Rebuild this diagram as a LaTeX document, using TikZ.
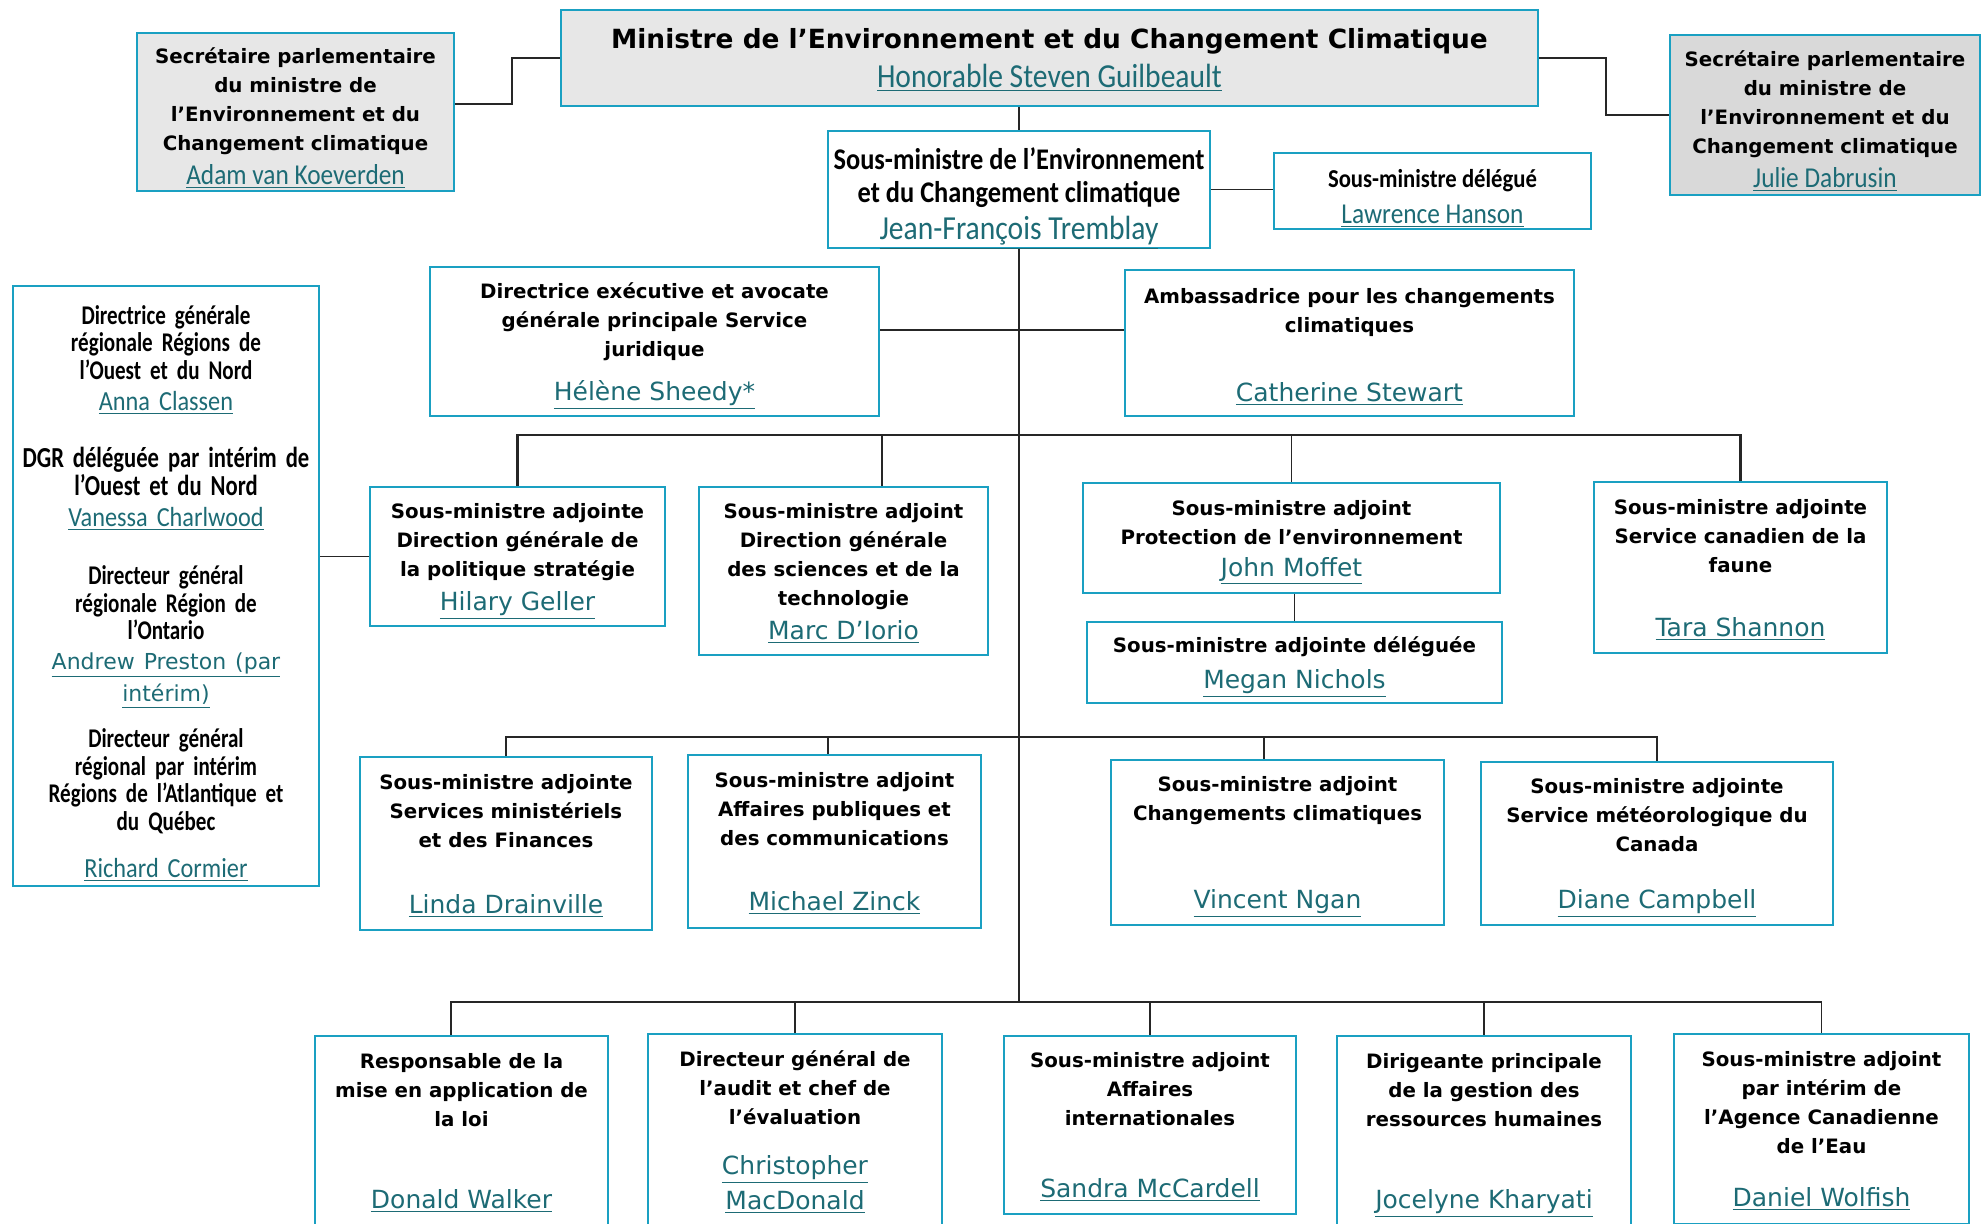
\documentclass[tikz,border=0pt]{standalone}
\usepackage{fontspec}
\setmainfont{DejaVu Sans}
\newfontfamily\calfont{Carlito}[FakeStretch=0.88]
\newfontfamily\calserre{Carlito}[FakeStretch=0.78]
\usepackage{tikz}

\definecolor{bordure}{HTML}{1AA0C2}
\definecolor{nomteal}{HTML}{1D6B75}
\definecolor{grisclair}{HTML}{E7E7E7}
\definecolor{grismoyen}{HTML}{D9D9D9}

\newcommand{\tnom}[2][12.5]{\raisebox{0pt}[\height][0pt]{\rmfamily\mdseries\fontsize{#1}{14.5}\selectfont\color{nomteal}\underline{#2}}}
\newcommand{\cnom}[2][14.4]{\raisebox{0pt}[\height][0pt]{\calfont\mdseries\fontsize{#1}{14.5}\selectfont\color{nomteal}\underline{#2}}}

\tikzset{
  poste/.style={draw=bordure, line width=1.2pt, fill=white, align=center, inner sep=2pt,
    text=black, font=\bfseries\fontsize{9.9}{14.5}\selectfont},
  lien/.style={draw=black!85, line width=0.8pt},
}

\begin{document}
\begin{tikzpicture}[x=0.5pt, y=-0.5pt]
\useasboundingbox (0,0) rectangle (1982,1223);
\clip (0,0) rectangle (1982,1223);

\node[poste, fill=grisclair, minimum width=488.5pt, minimum height=48pt,
  font=\bfseries\fontsize{13.2}{19.5}\selectfont] (min) at (1049.5,58)
  {Ministre de l’Environnement et du Changement Climatique\\ \cnom[16.8]{Honorable Steven Guilbeault}};
\node[poste, fill=grisclair, minimum width=158.5pt, minimum height=79pt] (secG) at (295.5,112)
  {\rule{0pt}{12pt}Secrétaire parlementaire\\ du ministre de\\ l’Environnement et du\\ Changement climatique\\[2.5pt] \cnom{Adam van Koeverden}};
\node[poste, fill=grismoyen, minimum width=155pt, minimum height=80pt] (secD) at (1825,115)
  {\rule{0pt}{12pt}Secrétaire parlementaire\\ du ministre de\\ l’Environnement et du\\ Changement climatique\\[2.5pt] \cnom{Julie Dabrusin}};
\node[poste, minimum width=191pt, minimum height=58.5pt,
  font=\calfont\bfseries\fontsize{15}{16.5}\selectfont] (sm) at (1019,189.5)
  {\rule{0pt}{15pt}Sous-ministre de l’Environnement\\ et du Changement climatique\\[2pt] \cnom[16.8]{Jean-François Tremblay}};
\node[poste, minimum width=158.5pt, minimum height=38pt,
  font=\calfont\bfseries\fontsize{12.9}{14.5}\selectfont] (smd) at (1432.5,191)
  {\rule{0pt}{14.5pt}Sous-ministre délégué\\[3.5pt] \cnom{Lawrence Hanson}};

\node[poste, minimum width=153pt, minimum height=300pt, text width=148pt,
  font=\calserre\bfseries\fontsize{13.5}{13.75}\selectfont] (reg) at (166,586)
  {\lineskiplimit=-6pt\relax
   \rule{0pt}{14.5pt}Directrice générale\\ régionale Régions de\\ l’Ouest et du Nord\\[2pt]
   \cnom[13.8]{Anna Classen}\\[14.75pt]
   {\fontsize{14.5}{13.75}\selectfont DGR déléguée par intérim de\\ l’Ouest et du Nord}\\[1.75pt]
   \cnom[13.8]{Vanessa Charlwood}\\[15.5pt]
   Directeur général\\ régionale Région de\\ l’Ontario\\[1pt]
   \tnom[11]{Andrew Preston (par}\\[2.5pt] \tnom[11]{intérim)}\\[9.25pt]
   Directeur général\\ régional par intérim\\ Régions de l’Atlantique et\\ du Québec\\[9.75pt]
   \cnom[13.8]{Richard Cormier}};

\node[poste, minimum width=224.5pt, minimum height=74.5pt] (jur) at (654.5,341.5)
  {Directrice exécutive et avocate\\ générale principale Service\\ juridique\\[7.5pt] \tnom{Hélène Sheedy*}};
\node[poste, minimum width=224.5pt, minimum height=73pt] (amb) at (1349.5,343)
  {\rule{0pt}{9.5pt}Ambassadrice pour les changements\\ climatiques\\[20pt] \tnom{Catherine Stewart}};

\node[poste, minimum width=147.5pt, minimum height=69.5pt] (pol) at (517.5,556.5)
  {Sous-ministre adjointe\\ Direction générale de\\ la politique stratégie\\[2.5pt] \tnom{Hilary Geller}};
\node[poste, minimum width=144.5pt, minimum height=84pt] (sci) at (843.5,571)
  {Sous-ministre adjoint\\ Direction générale\\ des sciences et de la\\ technologie\\[2.5pt] \tnom{Marc D’Iorio}};
\node[poste, minimum width=208.5pt, minimum height=55pt] (env) at (1291.5,538)
  {Sous-ministre adjoint\\ Protection de l’environnement\\[1.5pt] \tnom{John Moffet}};
\node[poste, minimum width=207.5pt, minimum height=40.5pt] (envd) at (1294.5,662.5)
  {Sous-ministre adjointe déléguée\\[3.5pt] \tnom{Megan Nichols}};
\node[poste, minimum width=146.5pt, minimum height=85.5pt] (fau) at (1740.5,567.5)
  {Sous-ministre adjointe\\ Service canadien de la\\ faune\\[17.5pt] \tnom{Tara Shannon}};

\node[poste, minimum width=146pt, minimum height=86.5pt] (fin) at (506,843.5)
  {Sous-ministre adjointe\\ Services ministériels\\ et des Finances\\[18.5pt] \tnom{Linda Drainville}};
\node[poste, minimum width=146.5pt, minimum height=86.5pt] (com) at (834.5,841.5)
  {Sous-ministre adjoint\\ Affaires publiques et\\ des communications\\[18pt] \tnom{Michael Zinck}};
\node[poste, minimum width=166.5pt, minimum height=82.5pt] (cc) at (1277.5,842.5)
  {Sous-ministre adjoint\\ Changements climatiques\\[29.5pt] \tnom{Vincent Ngan}};
\node[poste, minimum width=176pt, minimum height=81.5pt] (met) at (1657,843.5)
  {Sous-ministre adjointe\\ Service météorologique du\\ Canada\\[14pt] \tnom{Diane Campbell}};

\node[poste, minimum width=146.5pt, minimum height=95pt] (loi) at (461.5,1131)
  {Responsable de la\\ mise en application de\\ la loi\\[26.5pt] \tnom{Donald Walker}};
\node[poste, minimum width=147pt, minimum height=96pt] (aud) at (795,1130)
  {Directeur général de\\ l’audit et chef de\\ l’évaluation\\[10.5pt] \tnom{Christopher}\\[3pt] \tnom{MacDonald}};
\node[poste, minimum width=146pt, minimum height=89pt] (int) at (1150,1125)
  {Sous-ministre adjoint\\ Affaires\\ internationales\\[21.5pt] \tnom{Sandra McCardell}};
\node[poste, minimum width=147pt, minimum height=95pt] (rh) at (1484,1131)
  {Dirigeante principale\\ de la gestion des\\ ressources humaines\\[26.5pt] \tnom{Jocelyne Kharyati}};
\node[poste, minimum width=147.5pt, minimum height=95pt] (eau) at (1821.5,1129)
  {Sous-ministre adjoint\\ par intérim de\\ l’Agence Canadienne\\ de l’Eau\\[12pt] \tnom{Daniel Wolfish}};

\coordinate (h2) at (1019,435);
\coordinate (h3) at (1019,737);
\coordinate (tronc) at (1019,1002);

\draw[lien] ([yshift=4pt]secG.east) -- ++(57,0) |- (min.west);
\draw[lien] (min.east) -- ++(67,0) |- (secD.west);
\draw[lien] (min.south -| sm.north) -- (sm.north);
\draw[lien] (sm.east) -- (sm.east -| smd.west);
\draw[lien] (sm.south) -- (tronc);
\draw[lien, line width=1.2pt] ([yshift=5.75pt]jur.east) -- ([yshift=5.75pt]jur.east -| amb.west);

\draw[lien, line width=1.1pt] (pol.north) |- (h2) -| (fau.north);
\draw[lien] ([xshift=19.25pt]sci.north) -- ([xshift=19.25pt]sci.north |- h2);
\draw[lien] (env.north) -- (env.north |- h2);
\draw[lien] (envd.north) -- (envd.north |- env.south);
\draw[lien] (reg.east |- pol.west) -- (pol.west);

\draw[lien] (fin.north) |- (h3) -| (met.north);
\draw[lien] ([xshift=-3.25pt]com.north) -- ([xshift=-3.25pt]com.north |- h3);
\draw[lien] ([xshift=-6.75pt]cc.north) -- ([xshift=-6.75pt]cc.north |- h3);

\draw[lien] ([xshift=-5.25pt]loi.north) |- (tronc) -| (eau.north);
\draw[lien] (aud.north) -- (aud.north |- tronc);
\draw[lien] (int.north) -- (int.north |- tronc);
\draw[lien] (rh.north) -- (rh.north |- tronc);
\end{tikzpicture}
\end{document}
